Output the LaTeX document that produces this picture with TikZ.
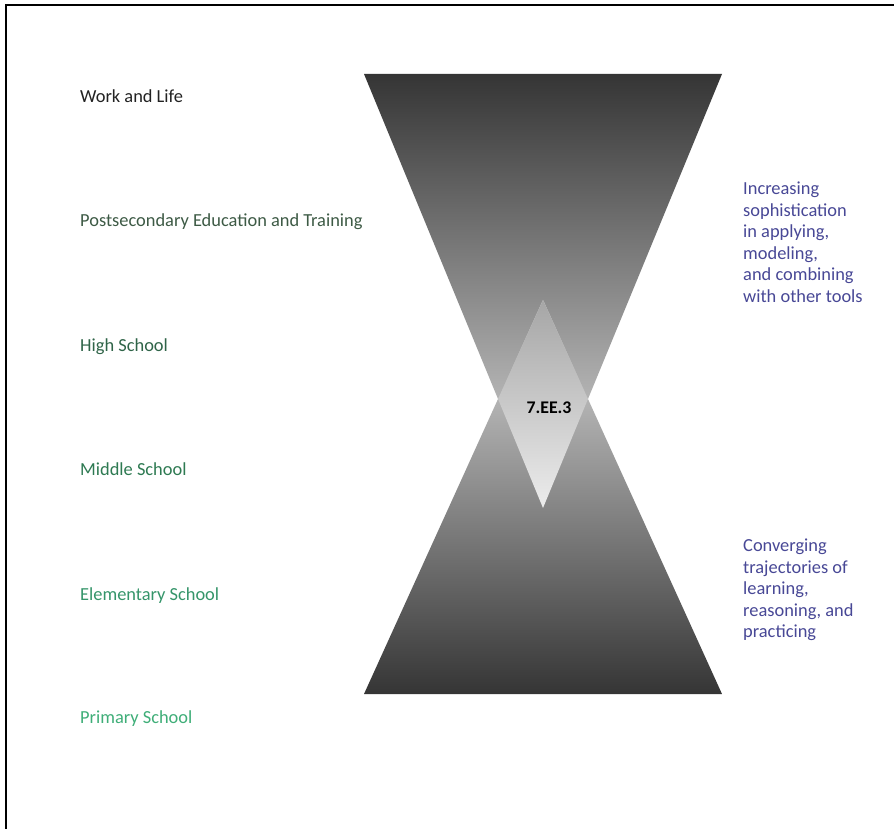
\documentclass[tikz,border=0pt]{standalone}
\usepackage{fontspec}
\setmainfont{Carlito}
\begin{document}
\begin{tikzpicture}[x=1pt,y=-1pt,
  lbl/.style={anchor=base west,inner sep=0pt,font=\fontsize{18.4}{22}\selectfont},
  rtxt/.style={anchor=north west,inner sep=0pt,align=left,text=sideblue,font=\fontsize{18.4}{21.5}\selectfont},
  frame/.style={line width=2pt,black}]
\definecolor{sideblue}{RGB}{72,72,150}
\definecolor{cA}{RGB}{34,34,34}
\definecolor{cB}{RGB}{61,90,69}
\definecolor{cC}{RGB}{47,100,72}
\definecolor{cD}{RGB}{46,122,82}
\definecolor{cE}{RGB}{53,149,106}
\definecolor{cF}{RGB}{63,174,120}
\definecolor{darkg}{RGB}{53,53,53}
\definecolor{lightg}{RGB}{222,222,222}
\definecolor{midg}{RGB}{166,166,166}
\definecolor{palest}{RGB}{236,236,236}
\useasboundingbox (0,0) rectangle (894,829);
\fill[white] (0,0) rectangle (894,829);
% frame (top and left)
\coordinate (fL) at (6,829);
\coordinate (fC) at (6,5);
\coordinate (fR) at (894,5);
\draw[frame] (fL) -- (fC) -- (fR);
% triangles
\coordinate (tL) at (364,74);
\coordinate (tR) at (722,74);
\coordinate (tA) at (543,508);
\coordinate (bL) at (364,694);
\coordinate (bR) at (722,694);
\coordinate (bA) at (543,300);
\shade[top color=darkg,bottom color=lightg] (tL) -- (tR) -- (tA) -- cycle;
\shade[bottom color=darkg,top color=lightg] (bL) -- (bR) -- (bA) -- cycle;
\begin{scope}
  \clip (tL) -- (tR) -- (tA) -- cycle;
  \clip (bL) -- (bR) -- (bA) -- cycle;
  \shade[top color=midg,bottom color=palest] (486,300) rectangle (600,508);
\end{scope}
\node[font=\fontsize{17.8}{20}\selectfont\bfseries] (code) at (549,408) {7.EE.3};
% left labels
\node[lbl,text=cA] (l1) at (80,103) {Work and Life};
\node[lbl,text=cB] (l2) at (80,226) {Postsecondary Education and Training};
\node[lbl,text=cC] (l3) at (80,351) {High School};
\node[lbl,text=cD] (l4) at (80,475) {Middle School};
\node[lbl,text=cE] (l5) at (80,600) {Elementary School};
\node[lbl,text=cF] (l6) at (80,723) {Primary School};
% right texts
\node[rtxt] (r1) at (743,182) {Increasing\\sophistication\\in applying,\\modeling,\\and combining\\with other tools};
\node[rtxt] (r2) at (743,539) {Converging\\trajectories of\\learning,\\reasoning, and\\practicing};
\end{tikzpicture}
\end{document}
